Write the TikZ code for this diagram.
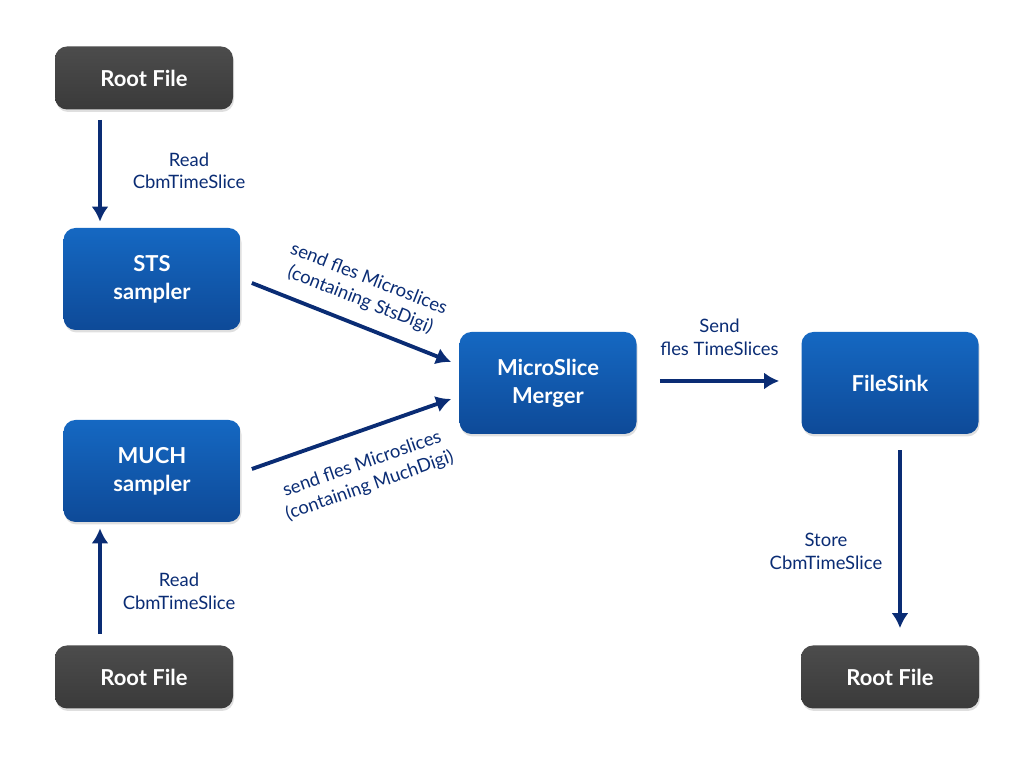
\documentclass[tikz,border=0pt]{standalone}
\usepackage{fontspec}
\setmainfont{Lato}
\usetikzlibrary{arrows.meta,shadows}
\definecolor{navy}{HTML}{0A2C74}
\definecolor{boxtop}{HTML}{1568C2}
\definecolor{boxbot}{HTML}{0E4A98}
\definecolor{filetop}{HTML}{4C4C4C}
\definecolor{filebot}{HTML}{3A3A3A}
\begin{document}
\begin{tikzpicture}[
    box/.style={rounded corners=0.24cm, minimum width=3.54cm, minimum height=2.04cm,
      inner sep=0pt, top color=boxtop, bottom color=boxbot, text=white, align=center,
      font=\fontsize{12.5}{16}\selectfont\bfseries,
      drop shadow={shadow xshift=0.02cm, shadow yshift=-0.05cm, opacity=0.25}},
    file/.style={box, minimum width=3.56cm, minimum height=1.26cm,
      top color=filetop, bottom color=filebot},
    flow/.style={navy, line width=2.2pt, -{Latex[length=3mm,width=3.4mm]}},
    lbl/.style={text=navy, align=center, font=\fontsize{10.5}{13}\selectfont}]

  \useasboundingbox (0,0) rectangle (20.48,15.36);

  % boxes
  \node[file] (rootA) at (2.88,13.80) {Root File};
  \node[box] (sts) at (3.04,9.78) {STS\\sampler};
  \node[box] (much) at (3.04,5.94) {MUCH\\sampler};
  \node[file] (rootB) at (2.88,1.82) {Root File};
  \node[box] (merger) at (10.96,7.70) {MicroSlice\\Merger};
  \node[box] (sink) at (17.80,7.70) {FileSink};
  \node[file] (rootC) at (17.80,1.82) {Root File};

  % reading
  \draw[flow] ([xshift=-0.88cm,yshift=-0.2cm]rootA.south) -- node[lbl, right=0.5cm] {Read\\CbmTimeSlice} ([xshift=-0.88cm,yshift=0.12cm]rootA.south |- sts.north);
  \draw[flow] ([xshift=-0.88cm,yshift=0.22cm]rootB.north) -- node[lbl, right=0.3cm, yshift=-0.2cm] {Read\\CbmTimeSlice} ([xshift=-0.88cm,yshift=-0.12cm]rootB.north |- much.south);

  % to the merger
  \draw[flow] ([xshift=0.22cm,yshift=-0.08cm]sts.east) -- node[lbl, sloped, above=0.15cm] {send fles Microslices\\(containing StsDigi)} ([xshift=-0.16cm,yshift=0.42cm]merger.west);
  \draw[flow] ([xshift=0.22cm,yshift=0.04cm]much.east) -- node[lbl, sloped, below=0.32cm] {send fles Microslices\\(containing MuchDigi)} ([xshift=-0.16cm,yshift=-0.32cm]merger.west);

  % to the sink
  \draw[flow] ([xshift=0.46cm,yshift=0.04cm]merger.east) -- node[lbl, above=0.35cm] {Send\\fles TimeSlices} ([xshift=-0.44cm,yshift=0.04cm]sink.west);
  \draw[flow] ([xshift=0.2cm,yshift=-0.32cm]sink.south) -- node[lbl, left=0.2cm, yshift=-0.24cm] {Store\\CbmTimeSlice} ([xshift=0.2cm,yshift=0.34cm]sink.south |- rootC.north);

\end{tikzpicture}
\end{document}
